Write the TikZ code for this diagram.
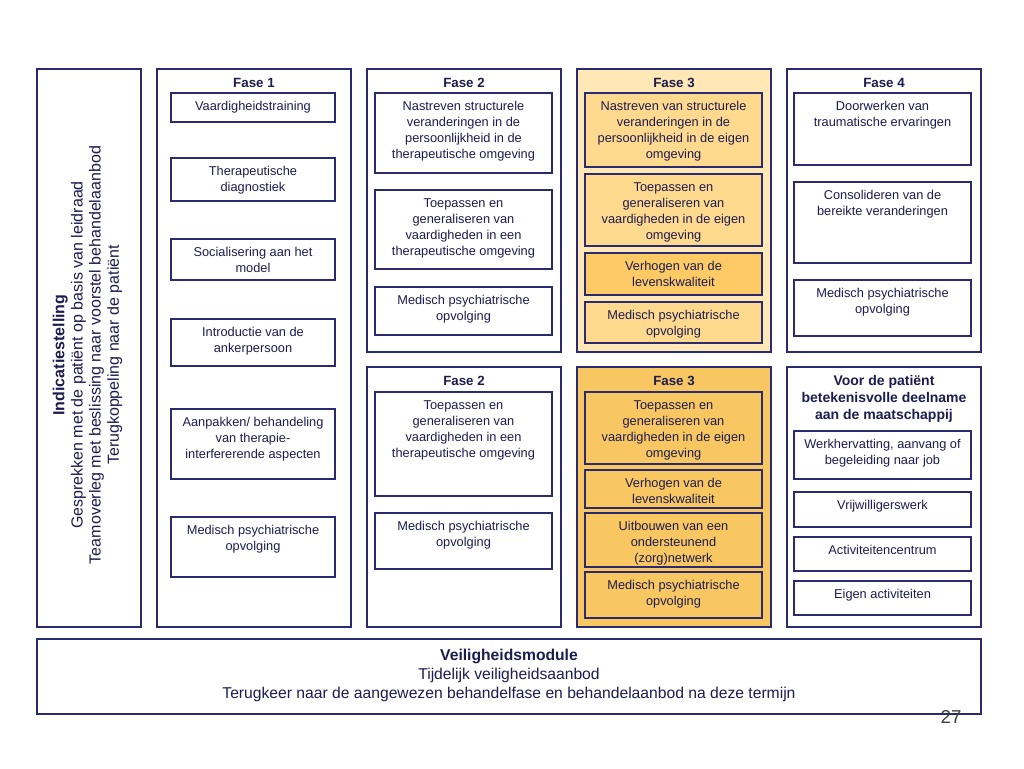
\documentclass[tikz,border=0pt]{standalone}
\usepackage{fontspec}
\setmainfont{Liberation Sans}
\usetikzlibrary{fit}
\definecolor{navy}{HTML}{2A2A6E}
\definecolor{ink}{HTML}{1C1C50}
\definecolor{peachA}{HTML}{FFE7B6}
\definecolor{peachB}{HTML}{FFD98E}
\definecolor{peachC}{HTML}{FDCA66}
\definecolor{peachD}{HTML}{F9C762}
\tikzset{
  frame/.style={draw=navy, line width=0.9pt, inner sep=0pt},
  cell/.style={draw=navy, line width=0.9pt, inner sep=0pt},
  txt/.style={text=ink, font=\fontsize{9.6}{12}\selectfont, align=center, inner sep=0pt, anchor=north},
  title/.style={text=ink, font=\fontsize{10}{12.75}\selectfont\bfseries, align=center, inner sep=0pt},
}
% \bx{name}{x1}{y1}{x2}{y2}{fill}{text}
\newcommand{\bx}[7]{%
  \node[cell, fill=#6, fit={(#2,#3)(#4,#5)}] (#1) {};
  \node[txt] (#1-t) at ([yshift=-6.5pt]#1.north) {#7};
}
\begin{document}
\begin{tikzpicture}[x=0.75pt, y=-0.75pt]
\useasboundingbox (0,0) rectangle (1024,768);
\fill[white] (0,0) rectangle (1024,768);

% Indicatiestelling
\node[frame, fit={(37,69)(141,627)}] (ind) {};
\node[text=ink, rotate=90, align=center, inner sep=0pt,
  font=\fontsize{12}{13.6}\selectfont] (ind-t) at (87.5,355)
  {{\bfseries Indicatiestelling}\\Gesprekken met de patiënt op basis van leidraad\\Teamoverleg met beslissing naar voorstel behandelaanbod\\Terugkoppeling naar de patiënt};

% Fase 1
\node[frame, fit={(157,69)(351,627)}] (f1) {};
\node[title] (f1-h) at (254,83) {Fase 1};
\bx{f1a}{171}{93}{335}{122}{white}{Vaardigheidstraining}
\bx{f1b}{171}{158}{335}{201}{white}{Therapeutische\\diagnostiek}
\bx{f1c}{171}{239}{335}{280}{white}{Socialisering aan het\\model}
\bx{f1d}{171}{319}{335}{366}{white}{Introductie van de\\ankerpersoon}
\bx{f1e}{171}{409}{335}{479}{white}{Aanpakken/ behandeling\\van therapie-\\interfererende aspecten}
\bx{f1f}{171}{517}{335}{577}{white}{Medisch psychiatrische\\opvolging}

% Fase 2 top
\node[frame, fit={(367,69)(561,352)}] (f2) {};
\node[title] (f2-h) at (464,83) {Fase 2};
\bx{f2a}{375}{93}{552}{173}{white}{Nastreven structurele\\veranderingen in de\\persoonlijkheid in de\\therapeutische omgeving}
\bx{f2b}{375}{190}{552}{269}{white}{Toepassen en\\generaliseren van\\vaardigheden in een\\therapeutische omgeving}
\bx{f2c}{375}{287}{552}{335}{white}{Medisch psychiatrische\\opvolging}

% Fase 3 top
\node[frame, fill=peachA, fit={(577,69)(771,352)}] (f3) {};
\node[title] (f3-h) at (674,83) {Fase 3};
\bx{f3a}{585}{93}{762}{167}{peachB}{Nastreven van structurele\\veranderingen in de\\persoonlijkheid in de eigen\\omgeving}
\bx{f3b}{585}{174}{762}{246}{peachB}{Toepassen en\\generaliseren van\\vaardigheden in de eigen\\omgeving}
\bx{f3c}{585}{253}{762}{295}{peachC}{Verhogen van de\\levenskwaliteit}
\bx{f3d}{585}{302}{762}{343}{peachB}{Medisch psychiatrische\\opvolging}

% Fase 4
\node[frame, fit={(787,69)(981,352)}] (f4) {};
\node[title] (f4-h) at (884,83) {Fase 4};
\bx{f4a}{794}{93}{971}{165}{white}{Doorwerken van\\traumatische ervaringen}
\bx{f4b}{794}{182}{971}{263}{white}{Consolideren van de\\bereikte veranderingen}
\bx{f4c}{794}{280}{971}{336}{white}{Medisch psychiatrische\\opvolging}

% Fase 2 bottom
\node[frame, fit={(367,367)(561,627)}] (g2) {};
\node[title] (g2-h) at (464,381) {Fase 2};
\bx{g2a}{375}{392}{552}{496}{white}{Toepassen en\\generaliseren van\\vaardigheden in een\\therapeutische omgeving}
\bx{g2b}{375}{513}{552}{569}{white}{Medisch psychiatrische\\opvolging}

% Fase 3 bottom
\node[frame, fill=peachD, fit={(577,367)(771,627)}] (g3) {};
\node[title] (g3-h) at (674,381) {Fase 3};
\bx{g3a}{585}{392}{762}{464}{peachD}{Toepassen en\\generaliseren van\\vaardigheden in de eigen\\omgeving}
\bx{g3b}{585}{470}{762}{508}{peachD}{Verhogen van de\\levenskwaliteit}
\bx{g3c}{585}{513}{762}{567}{peachD}{Uitbouwen van een\\ondersteunend\\(zorg)netwerk}
\bx{g3d}{585}{572}{762}{618}{peachD}{Medisch psychiatrische\\opvolging}

% Voor de patient
\node[frame, fit={(787,367)(981,627)}] (g4) {};
\node[title, font=\fontsize{10.5}{12.75}\selectfont\bfseries] (g4-h) at (884,399) {Voor de patiënt\\betekenisvolle deelname\\aan de maatschappij};
\bx{g4a}{794}{431}{971}{479}{white}{Werkhervatting, aanvang of\\begeleiding naar job}
\bx{g4b}{794}{492}{971}{527}{white}{Vrijwilligerswerk}
\bx{g4c}{794}{537}{971}{571}{white}{Activiteitencentrum}
\bx{g4d}{794}{581}{971}{615}{white}{Eigen activiteiten}

% Veiligheidsmodule
\node[frame, fit={(37,639)(981,714)}] (vm) {};
\node[text=ink, align=center, inner sep=0pt, font=\fontsize{11.75}{14.25}\selectfont] (vm-t) at (509,675.5)
  {{\bfseries Veiligheidsmodule}\\Tijdelijk veiligheidsaanbod\\Terugkeer naar de aangewezen behandelfase en behandelaanbod na deze termijn};

\node[text=black!75, inner sep=0pt, font=\fontsize{14}{16}\selectfont] (pg) at (951,717) {27};
\end{tikzpicture}
\end{document}
